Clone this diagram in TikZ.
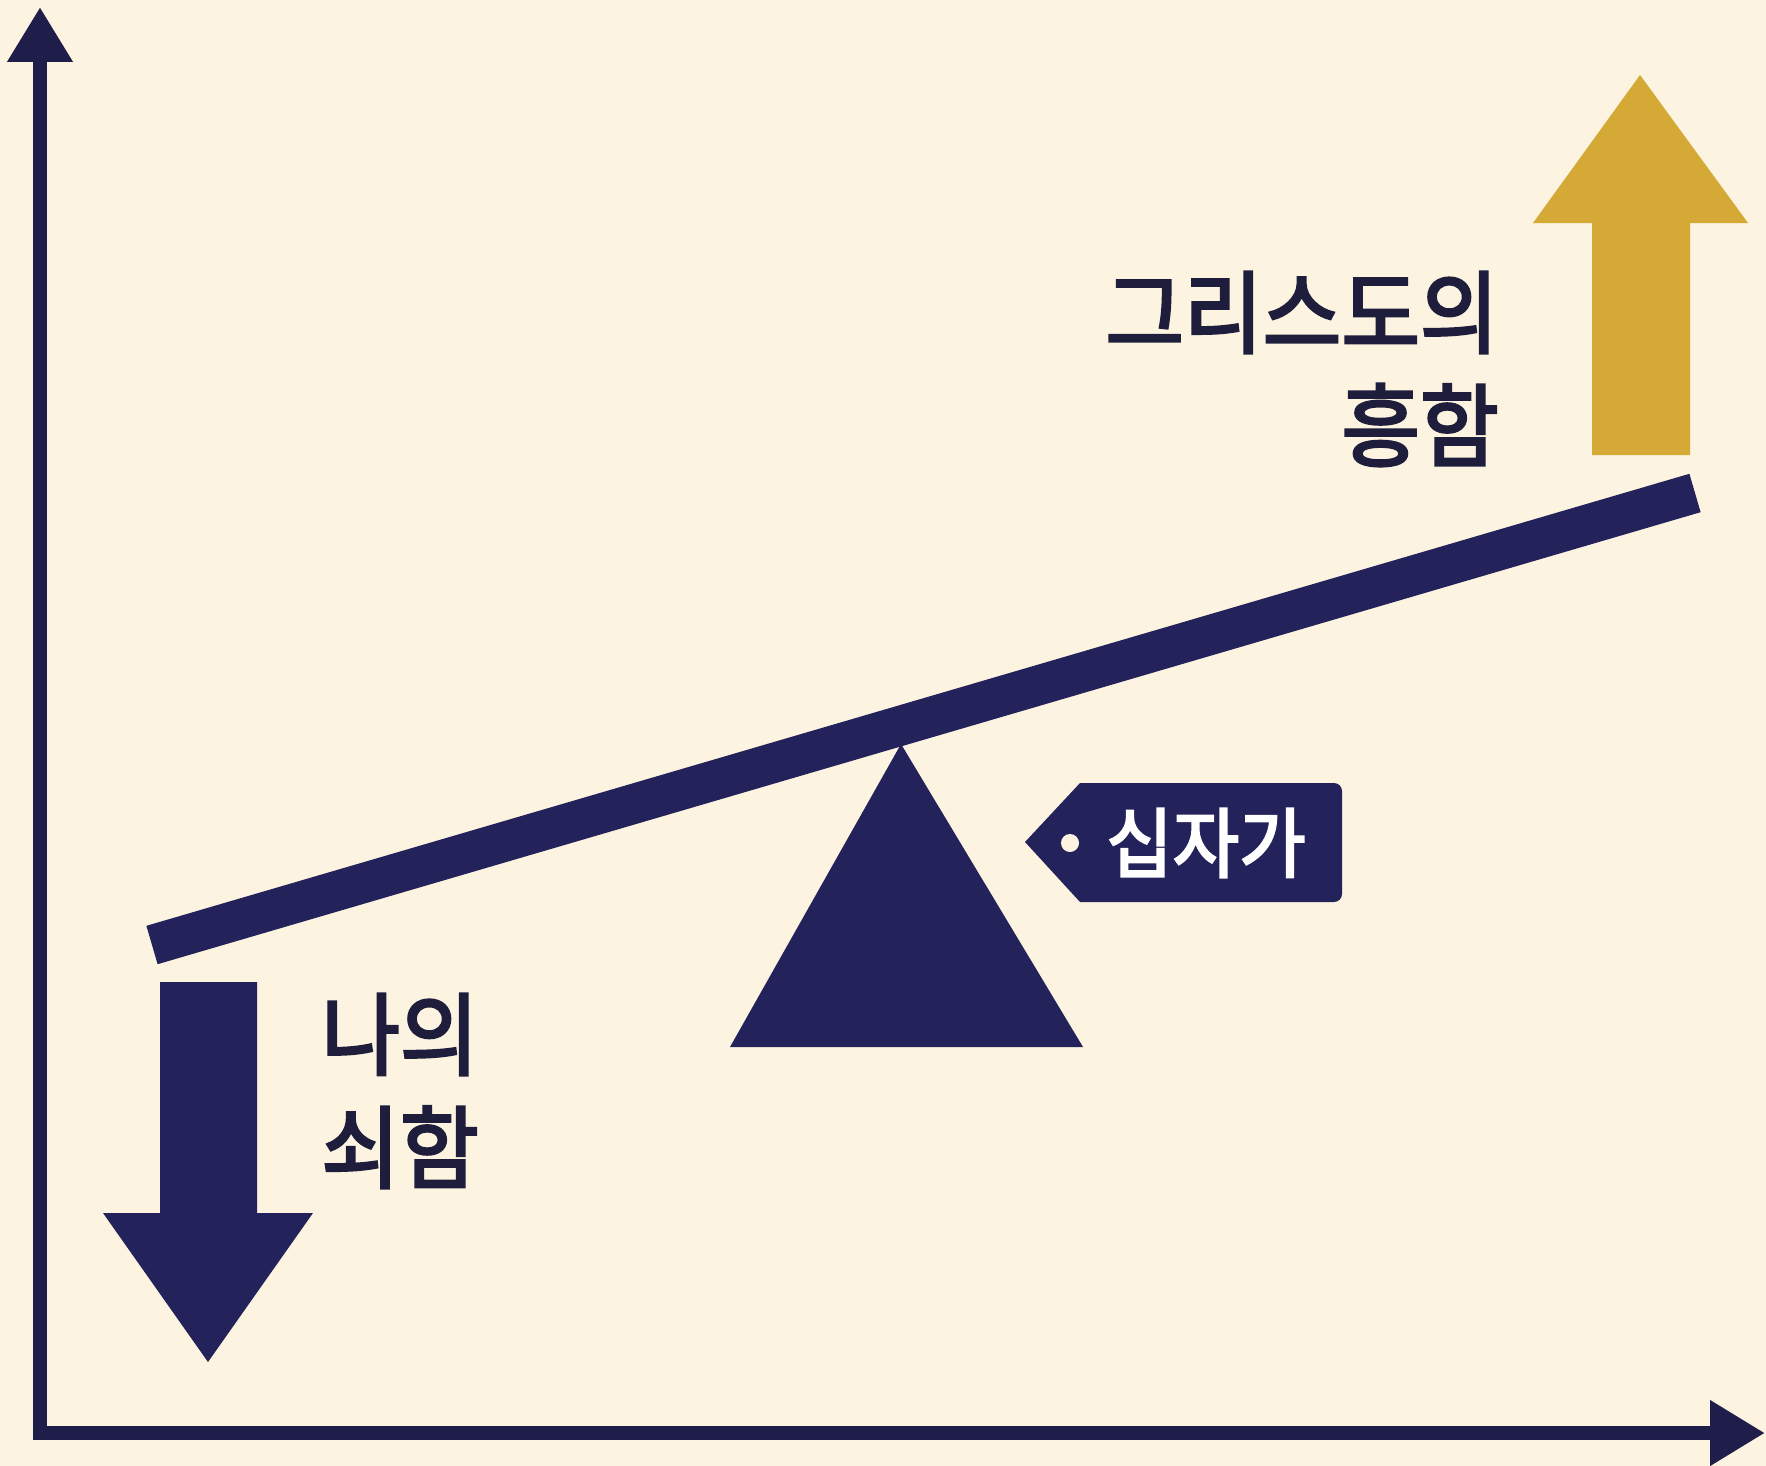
\documentclass[tikz,border=0pt]{standalone}
\usepackage{fontspec}
\newfontfamily\kr[FakeStretch=0.95, FakeBold=3]{Noto Sans CJK KR}
\usetikzlibrary{arrows.meta}
\definecolor{bg}{HTML}{FCF4E0}
\definecolor{navy}{HTML}{24225A}
\definecolor{axisc}{HTML}{1F1D4A}
\definecolor{gold}{HTML}{D4A935}
\definecolor{txt}{HTML}{1E1E3C}
\tikzset{
  axisline/.style={draw=axisc, line width=14pt, -{Triangle[length=55pt,width=62pt]}},
  beamline/.style={draw=navy, line width=40pt, line cap=butt},
  bigtext/.style={text=txt, inner sep=0pt, font=\kr\fontsize{90}{113}\selectfont},
  tagtext/.style={text=white, inner sep=0pt, font=\kr\fontsize{76}{90}\selectfont},
}
\begin{document}
\begin{tikzpicture}[x=1pt,y=-1pt]
\fill[bg] (0,0) rectangle (1766,1466);
\useasboundingbox (0,0) rectangle (1766,1466);
% axes
\coordinate (O) at (40,1433);
\coordinate (ytop) at (40,7);
\coordinate (xend) at (1765,1433);
\coordinate (xstart) at (33,1433);
\draw[axisline] (O) -- (ytop);
\draw[axisline] (xstart) -- (xend);
% beam
\coordinate (bl) at (152,945);
\coordinate (br) at (1695,493);
\draw[beamline] (bl) -- (br);
% fulcrum
\fill[navy] (901,744) coordinate (apex) -- (1083,1047) -- (730,1047) -- cycle;
% gold up arrow
\fill[gold] (1592,455) -- (1592,223) -- (1533,223) -- (1640,75) -- (1748,223) -- (1690,223) -- (1690,455) -- cycle;
% navy down arrow
\fill[navy] (160,982) -- (257,982) -- (257,1213) -- (313,1213) -- (208,1362) -- (103,1213) -- (160,1213) -- cycle;
% tag
\fill[navy] (1025,842) -- (1080,783) -- (1334,783) arc[start angle=90, end angle=0, radius=8pt] -- (1342,894) arc[start angle=0, end angle=-90, radius=8pt] -- (1080,902) -- cycle;
\fill[bg] (1070,843) circle (9pt);
\node[tagtext] (cross) at (1206,843) {십자가};
% labels
\node[bigtext, align=right] (up) at (1302,369) {그리스도의\\흥함};
\node[bigtext, align=left] (down) at (400,1091) {나의\\쇠함};
\end{tikzpicture}
\end{document}
